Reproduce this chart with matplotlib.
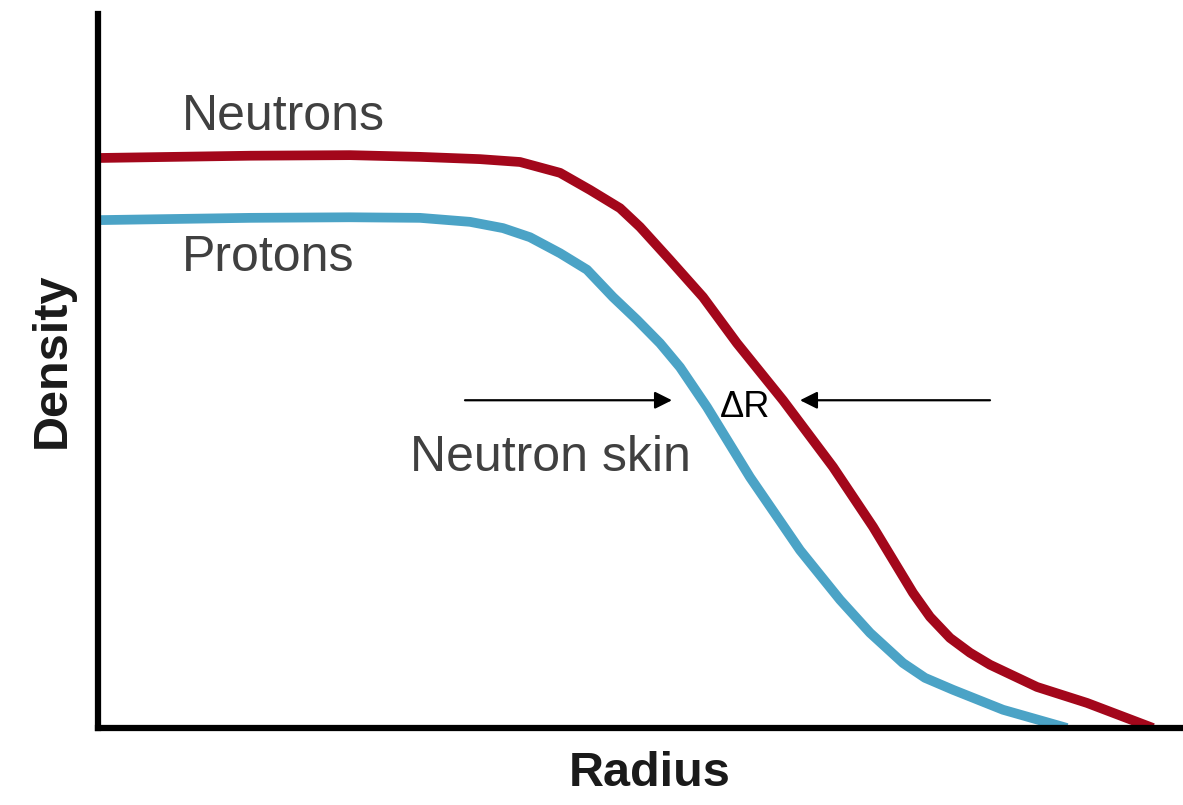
import matplotlib.pyplot as plt

# Density profiles (arbitrary units) against radius
radius_n = [0.00, 1.52, 2.52, 3.22, 3.82, 4.22, 4.62, 4.92, 5.22, 5.42, 5.72,
            6.05, 6.39, 6.85, 7.35, 7.75, 8.15, 8.32, 8.52, 8.72, 8.92, 9.39, 9.89, 10.55]
neutrons = [1.000, 1.004, 1.005, 1.002, 0.998, 0.993, 0.974, 0.944, 0.912, 0.879, 0.821,
            0.756, 0.675, 0.575, 0.458, 0.353, 0.237, 0.195, 0.158, 0.132, 0.111, 0.072, 0.044, 0.000]

radius_p = [0.00, 1.52, 2.52, 3.22, 3.72, 4.05, 4.32, 4.62, 4.89, 5.15, 5.39,
            5.62, 5.82, 6.09, 6.52, 7.02, 7.42, 7.72, 8.05, 8.27, 8.55, 9.05, 9.69]
protons = [0.891, 0.895, 0.896, 0.895, 0.888, 0.877, 0.861, 0.833, 0.804, 0.756, 0.716,
           0.675, 0.633, 0.563, 0.440, 0.312, 0.225, 0.167, 0.114, 0.088, 0.067, 0.032, 0.000]

# Neutron skin marker: arrows at this density level
skin_level = 0.575
arrow_left = (3.67, 5.74)
arrow_right = (8.92, 7.02)

red = '#a3071b'
blue = '#4ba3c6'
grey = '#404040'

plt.rcParams['font.family'] = ['Liberation Sans', 'DejaVu Sans']

fig = plt.figure(figsize=(11.83, 8.05), dpi=100)
ax = fig.add_axes([98 / 1183, 77 / 805, 1 - 98 / 1183, (728 - 14) / 805])

ax.plot(radius_n, neutrons, color=red, lw=7, solid_capstyle='butt', solid_joinstyle='round')
ax.plot(radius_p, protons, color=blue, lw=7, solid_capstyle='butt', solid_joinstyle='round')

ax.set_xlim(0, 10.85)
ax.set_ylim(0, 714 / 570)

for side in ['top', 'right']:
    ax.spines[side].set_visible(False)
for side in ['left', 'bottom']:
    ax.spines[side].set_linewidth(4.5)
    ax.spines[side].set_color('black')
ax.set_xticks([])
ax.set_yticks([])

# arrows pointing in on the skin
arrow_kw = dict(arrowstyle='-|>', color='black', lw=1.6, mutation_scale=26, shrinkA=0, shrinkB=0)
ax.annotate('', xy=(arrow_left[1], skin_level), xytext=(arrow_left[0], skin_level), arrowprops=arrow_kw)
ax.annotate('', xy=(arrow_right[1], skin_level), xytext=(arrow_right[0], skin_level), arrowprops=arrow_kw)

ax.text(6.22, 0.563, 'ΔR', fontsize=26, color='black', va='center', ha='left')
ax.text(0.84, 1.072, 'Neutrons', fontsize=36, color=grey, va='center', ha='left')
ax.text(0.84, 0.825, 'Protons', fontsize=36, color=grey, va='center', ha='left')
ax.text(3.12, 0.474, 'Neutron skin', fontsize=36, color=grey, va='center', ha='left')

fig.text(650 / 1183, 32 / 805, 'Radius', fontsize=35, fontweight='bold', color='#1a1a1a',
         ha='center', va='center')
fig.text(52 / 1183, 445 / 805, 'Density', fontsize=35, fontweight='bold', color='#1a1a1a',
         ha='center', va='center', rotation=90)

fig.savefig('out.png', dpi=100)
